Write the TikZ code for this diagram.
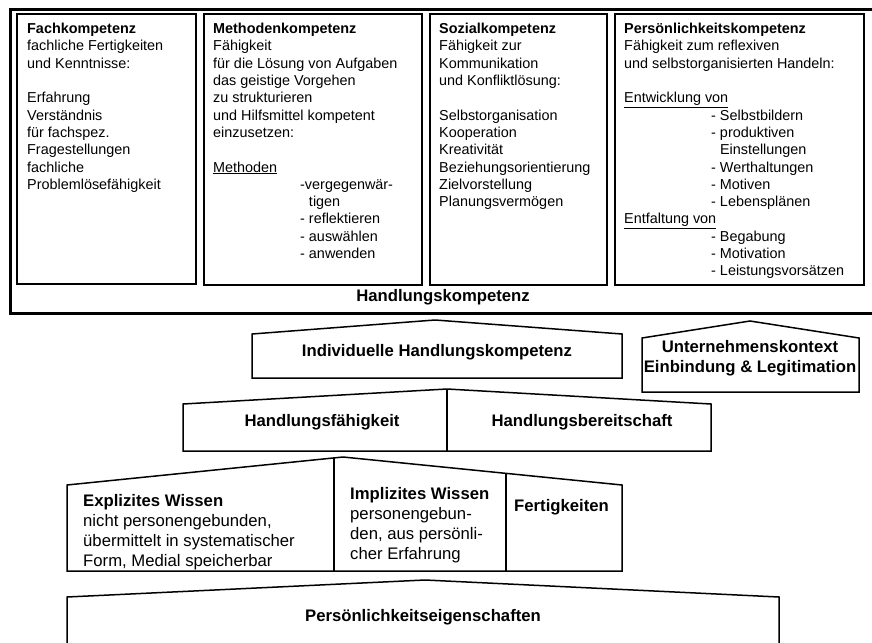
\documentclass[tikz,border=0pt]{standalone}
\usepackage{fontspec}
\setmainfont{Liberation Sans}
\usetikzlibrary{calc}

\tikzset{
  compbox/.style={draw, line width=1.3pt},
  housebox/.style={draw, line width=1.5pt, line join=miter},
  toptext/.style={font=\fontsize{14.4}{17.3}\selectfont, inner sep=0pt, anchor=north west, align=left},
  lowtext/.style={font=\fontsize{16.7}{20}\selectfont, inner sep=0pt, align=left},
}
\newcommand{\ind}{\hspace*{87pt}}

\begin{document}
\begin{tikzpicture}[x=1pt,y=-1pt]
     \clip (0,0) rectangle (872,642);

     % Handlungskompetenz
     \coordinate (HKA) at (10.5,10);
     \coordinate (HKB) at (885,313.5);
     \draw [line width=3pt] (HKA) rectangle (HKB);
     \draw [compbox] (17,14) rectangle (196,284);
     \draw [compbox] (204,14) rectangle (422,285);
     \draw [compbox] (430,14) rectangle (607,285);
     \draw [compbox] (615,14) rectangle (864,285);

     \node [toptext] (fach) at (27,23) {\textbf{Fachkompetenz}\\fachliche Fertigkeiten\\und Kenntnisse:\\[17.3pt]Erfahrung\\Verständnis\\für fachspez.\\Fragestellungen\\fachliche\\Problemlösefähigkeit};
     \node [toptext] (methode) at (213,23) {\textbf{Methodenkompetenz}\\Fähigkeit\\für die Lösung von Aufgaben\\das geistige Vorgehen\\zu strukturieren\\und Hilfsmittel kompetent\\einzusetzen:\\[17.3pt]\underline{Methoden}\\\ind-vergegenwär-\\\ind\hphantom{- }tigen\\\ind- reflektieren\\\ind- auswählen\\\ind- anwenden};
     \node [toptext] (sozial) at (439,23) {\textbf{Sozialkompetenz}\\Fähigkeit zur\\Kommunikation\\und Konfliktlösung:\\[17.3pt]Selbstorganisation\\Kooperation\\Kreativität\\Beziehungsorientierung\\Zielvorstellung\\Planungsvermögen};
     \node [toptext] (person) at (624,23) {\textbf{Persönlichkeitskompetenz}\\Fähigkeit zum reflexiven\\und selbstorganisierten Handeln:\\[17.3pt]\underline{Entwicklung von}\\\ind- Selbstbildern\\\ind- produktiven\\\ind\hphantom{- }Einstellungen\\\ind- Werthaltungen\\\ind- Motiven\\\ind- Lebensplänen\\\underline{Entfaltung von}\\\ind- Begabung\\\ind- Motivation\\\ind- Leistungsvorsätzen};
     \node [lowtext] (hk) at (443,297) {\textbf{Handlungskompetenz}};

     % Individuelle Handlungskompetenz
     \coordinate (IA) at (252,378);
     \coordinate (IB) at (252,334);
     \coordinate (IC) at (435,320);
     \coordinate (ID) at (622,334);
     \coordinate (IE) at (622,378);
     \draw [housebox] (IA) -- (IB) -- (IC) -- (ID) -- (IE) -- cycle;
     \node [lowtext] (ihk) at (437,352) {\textbf{Individuelle Handlungskompetenz}};

     % Unternehmenskontext
     \coordinate (UA) at (642,392);
     \coordinate (UB) at (642,338);
     \coordinate (UC) at (750,321);
     \coordinate (UD) at (859,338);
     \coordinate (UE) at (859,392);
     \draw [housebox] (UA) -- (UB) -- (UC) -- (UD) -- (UE) -- cycle;
     \node [lowtext, align=center] (uk) at (750,358) {\textbf{Unternehmenskontext}\\\textbf{Einbindung \& Legitimation}};

     % Handlungsfaehigkeit / -bereitschaft
     \coordinate (FA) at (183,451);
     \coordinate (FB) at (183,404);
     \coordinate (FC) at (447,389);
     \coordinate (FD) at (711,404);
     \coordinate (FE) at (711,451);
     \coordinate (FF) at (447,451);
     \draw [housebox] (FA) -- (FB) -- (FC) -- (FD) -- (FE) -- cycle;
     \draw [housebox] (FC) -- (FF);
     \node [lowtext] (hf) at (322,422) {\textbf{Handlungsfähigkeit}};
     \node [lowtext] (hb) at (582,422) {\textbf{Handlungsbereitschaft}};

     % Wissen
     \coordinate (WA) at (67,571);
     \coordinate (WB) at (67,485);
     \coordinate (WC) at (343,457);
     \coordinate (WD) at (622,485);
     \coordinate (WE) at (622,571);
     \draw [housebox] (WA) -- (WB) -- (WC) -- (WD) -- (WE) -- cycle;
     \draw [housebox] (334,457.9) -- (334,571);
     \draw [housebox] (506,473.4) -- (506,571);
     \node [lowtext, anchor=north west] (ew) at (83,494) {\textbf{Explizites Wissen}\\nicht personengebunden,\\übermittelt in systematischer\\Form, Medial speicherbar};
     \node [lowtext, anchor=north west] (iw) at (350,487) {\textbf{Implizites Wissen}\\personengebun-\\den, aus persönli-\\cher Erfahrung};
     \node [lowtext, anchor=west] (fk) at (514,507) {\textbf{Fertigkeiten}};

     % Persoenlichkeitseigenschaften
     \coordinate (PA) at (67,650);
     \coordinate (PB) at (67,597);
     \coordinate (PC) at (425,580);
     \coordinate (PD) at (779,597);
     \coordinate (PE) at (779,650);
     \draw [housebox] (PA) -- (PB) -- (PC) -- (PD) -- (PE);
     \node [lowtext] (pe) at (423,617) {\textbf{Persönlichkeitseigenschaften}};

  \end{tikzpicture}
\end{document}
